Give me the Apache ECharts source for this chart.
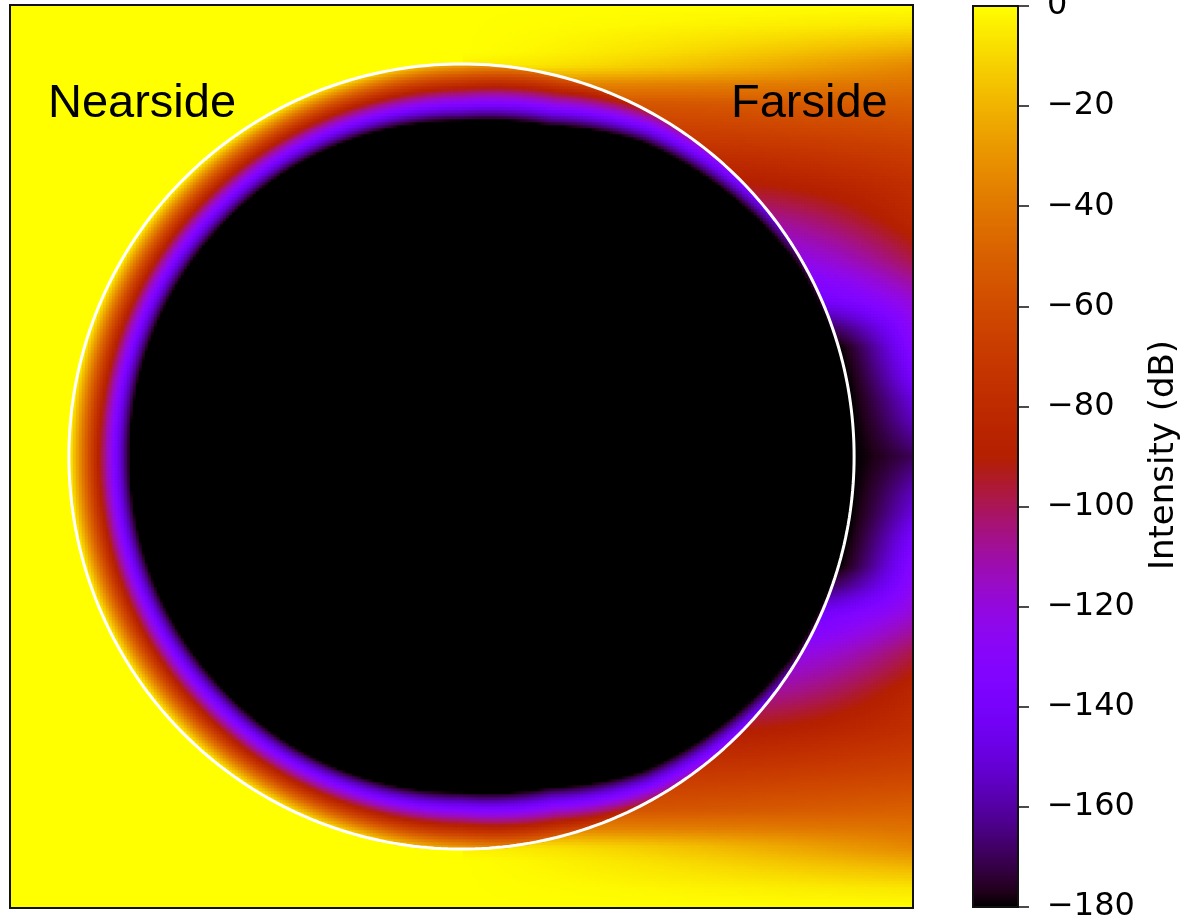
<!DOCTYPE html>
<html>
<head>
<meta charset="utf-8">
<title>Intensity (dB)</title>
<script src="https://cdn.jsdelivr.net/npm/echarts@6/dist/echarts.min.js"></script>
<style>
  html, body { margin: 0; padding: 0; background: #ffffff; }
  #chart { width: 1182px; height: 924px; }
</style>
</head>
<body>
<div id="chart"></div>
<script>
// Colour scale limits and colour-bar ticks (dB)
const levelMin = -180;
const levelMax = 0;
const levelTicks = [0, -20, -40, -60, -80, -100, -120, -140, -160, -180];

// Scatterer is the unit circle; the field window spans ±fieldExtent radii
const circleRadius = 1;
const fieldExtent = 1.15;
const cellsPerSide = 301;

// Inside the sphere: level at the rim and depth of the lossy skin (radii),
// by angle round the rim measured from the nearside (deg)
const rimAngle  = [0, 45, 60, 75, 90, 105, 120, 135, 150, 165, 180];
const rimLevel  = [0, 0, -2, -8, -22, -50, -100, -130, -168, -180, -180];
const skinDepth = [0.156, 0.152, 0.147, 0.145, 0.145, 0.128, 0.075, 0.046, 0.015, 0.003, 0];

// Outside, behind the sphere: level just off the rim and at the far edge,
// by height above/below the axis (radii)
const shadowHeight = [0, 0.1, 0.145, 0.2, 0.28, 0.33, 0.4, 0.5, 0.6, 0.7, 0.8, 0.9, 0.95, 0.98, 1.0, 1.03, 1.05, 1.1, 1.15];
const shadowRim    = [-180, -180, -180, -180, -180, -168, -140, -122, -108, -90, -72, -55, -35, -15, -3, 0, 0, 0, 0];
const shadowEdge   = [-170, -155, -150, -140, -130, -126, -118, -98, -84, -77, -65, -50, -42, -37, -33, -24, -18, -6, 0];
// how quickly the level moves from the rim value towards the edge value
const shadowBlendPower = 1.3;

// Lit (nearside) level outside the sphere
const litLevel = 0;

const sideLabels = ['Nearside', 'Farside'];
const barTitle = 'Intensity (dB)';

// ---- helpers -------------------------------------------------------------
function lookup(xs, ys, x) {
  if (x <= xs[0]) return ys[0];
  for (let k = 1; k < xs.length; k++) {
    if (x <= xs[k]) {
      const t = (x - xs[k - 1]) / (xs[k] - xs[k - 1]);
      return ys[k - 1] + t * (ys[k] - ys[k - 1]);
    }
  }
  return ys[ys.length - 1];
}

function levelAt(x, y) {
  const h = Math.abs(y);
  const r = Math.hypot(x, y);
  let v;
  if (r < circleRadius) {
    const ang = Math.atan2(h, -x) * 180 / Math.PI;
    const rim = lookup(rimAngle, rimLevel, ang);
    const skin = lookup(rimAngle, skinDepth, ang);
    const depth = circleRadius - r;
    v = (skin <= 0 || depth >= skin) ? levelMin : rim + (depth / skin) * (levelMin - rim);
  } else if (x <= 0) {
    v = litLevel;
  } else {
    const xr = h < circleRadius ? Math.sqrt(circleRadius * circleRadius - h * h) : 0;
    const s = Math.min(1, Math.max(0, (x - xr) / (fieldExtent - xr)));
    const a = lookup(shadowHeight, shadowRim, h);
    const b = lookup(shadowHeight, shadowEdge, h);
    v = a + Math.pow(s, shadowBlendPower) * (b - a);
  }
  return Math.max(levelMin, Math.min(levelMax, v));
}

// gnuplot colour map
function gnuplotColor(t) {
  const r = Math.sqrt(t), g = t * t * t, b = Math.max(0, Math.sin(2 * Math.PI * t));
  return 'rgb(' + Math.round(r * 255) + ',' + Math.round(g * 255) + ',' + Math.round(b * 255) + ')';
}
const colorStops = [];
for (let k = 0; k <= 64; k++) colorStops.push(gnuplotColor(k / 64));

// ---- field cells ---------------------------------------------------------
const step = 2 * fieldExtent / cellsPerSide;
const cellIndex = [];
for (let i = 0; i < cellsPerSide; i++) cellIndex.push(i);
const field = [];
for (let j = 0; j < cellsPerSide; j++) {
  const y = -fieldExtent + (j + 0.5) * step;
  for (let i = 0; i < cellsPerSide; i++) {
    const x = -fieldExtent + (i + 0.5) * step;
    field.push([i, j, levelAt(x, y)]);
  }
}

// colour-bar ramp: one cell per 0.2 dB
const barRows = [];
const barCells = [];
for (let k = 0; k <= 900; k++) {
  barRows.push(k);
  barCells.push([0, k, Math.min(levelMax, levelMin + k * 0.2)]);
}

// outline of the sphere
const rimOutline = [];
for (let d = 0; d <= 360; d++) {
  const a = d * Math.PI / 180;
  rimOutline.push([circleRadius * Math.cos(a), circleRadius * Math.sin(a)]);
}

const minus = v => (v < 0 ? '\u2212' + Math.abs(v) : String(v));

const chart = echarts.init(document.getElementById('chart'), null, { renderer: 'canvas' });
chart.setOption({
  animation: false,
  backgroundColor: '#ffffff',
  grid: [
    { left: 10, top: 5, width: 903, height: 903, containLabel: false, outerBoundsMode: 'none' },
    { left: 10, top: 5, width: 903, height: 903, containLabel: false, outerBoundsMode: 'none' },
    { left: 973, top: 6, width: 45, height: 901, containLabel: false, outerBoundsMode: 'none' }
  ],
  xAxis: [
    { gridIndex: 0, type: 'category', data: cellIndex, show: false },
    { gridIndex: 1, type: 'value', min: -fieldExtent, max: fieldExtent, show: false },
    { gridIndex: 2, type: 'category', data: [0], show: false }
  ],
  yAxis: [
    { gridIndex: 0, type: 'category', data: cellIndex, show: false },
    { gridIndex: 1, type: 'value', min: -fieldExtent, max: fieldExtent, show: false },
    { gridIndex: 2, type: 'category', data: barRows, show: false, position: 'left' },
    {
      gridIndex: 2, type: 'value', position: 'right', z: 10,
      min: levelMin, max: levelMax, interval: 20,
      axisLine: { show: false },
      splitLine: { show: false },
      axisTick: { show: true, inside: false, length: 11, lineStyle: { color: '#111', width: 1.5 } },
      axisLabel: {
        show: true, inside: false,
        margin: 29, color: '#000', fontSize: 32, fontFamily: 'DejaVu Sans',
        formatter: v => (levelTicks.indexOf(v) >= 0 ? minus(v) : '')
      }
    }
  ],
  visualMap: {
    type: 'continuous', seriesIndex: [0, 2], show: false,
    min: levelMin, max: levelMax,
    inRange: { color: colorStops }
  },
  series: [
    {
      type: 'heatmap', xAxisIndex: 0, yAxisIndex: 0,
      data: field, progressive: 0, silent: true,
      itemStyle: { borderWidth: 0 },
      emphasis: { disabled: true }
    },
    {
      type: 'line', xAxisIndex: 1, yAxisIndex: 1,
      data: rimOutline, showSymbol: false, silent: true, z: 5,
      lineStyle: { color: '#ffffff', width: 3 }
    },
    {
      type: 'heatmap', xAxisIndex: 2, yAxisIndex: 2,
      data: barCells, progressive: 0, silent: true,
      itemStyle: { borderWidth: 0 },
      emphasis: { disabled: true }
    }
  ],
  graphic: [
    { type: 'rect', z: 100, silent: true, shape: { x: 10, y: 5, width: 903, height: 903 },
      style: { fill: 'none', stroke: '#111', lineWidth: 2 } },
    { type: 'rect', z: 100, silent: true, shape: { x: 973, y: 6, width: 45, height: 901 },
      style: { fill: 'none', stroke: '#111', lineWidth: 2 } },
    { type: 'text', z: 100, x: 48, y: 104, silent: true,
      style: { text: sideLabels[0], fill: '#000', font: '47px "Liberation Sans", Arial', align: 'left', verticalAlign: 'middle' } },
    { type: 'text', z: 100, x: 731, y: 104, silent: true,
      style: { text: sideLabels[1], fill: '#000', font: '47px "Liberation Sans", Arial', align: 'left', verticalAlign: 'middle' } },
    { type: 'text', z: 100, x: 1164, y: 455, rotation: Math.PI / 2, silent: true,
      style: { text: barTitle, fill: '#000', font: '34px "DejaVu Sans"', align: 'center', verticalAlign: 'middle' } }
  ]
});
</script>
</body>
</html>
